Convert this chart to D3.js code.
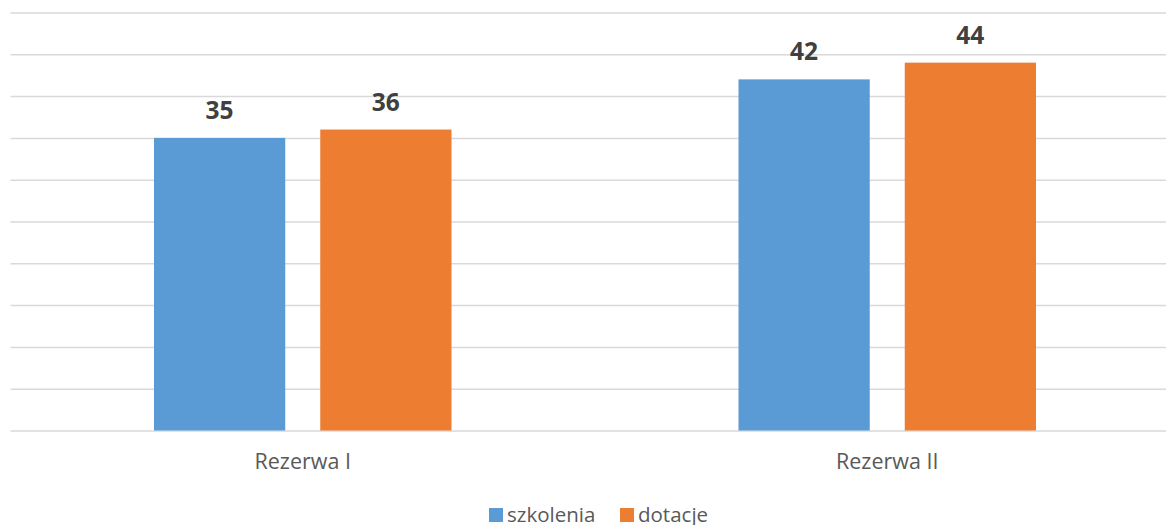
<!DOCTYPE html>
<html><head><meta charset="utf-8">
<script src="https://cdn.jsdelivr.net/npm/d3@7"></script>
<style>html,body{margin:0;padding:0;background:#fff;}svg{display:block;}</style>
</head><body>
<svg id="chart" width="1166" height="525"></svg>
<script>
const categories = ["Rezerwa I", "Rezerwa II"];
const seriesNames = ["szkolenia", "dotacje"];
const szkolenia = [35, 42];
const dotacje = [36, 44];
const yTicks = [0, 5, 10, 15, 20, 25, 30, 35, 40, 45, 50];
const colors = ["#5b9bd5", "#ed7d31"];

(function () {
const svg = d3.select("#chart");
const pLeft = 10.5, pRight = 1179.5, pTop = 12.5, pBottom = 430.5;

const x0 = d3.scaleBand().domain(categories).range([pLeft, pRight]).paddingInner(0.491).paddingOuter(0.2455);
const x1 = d3.scaleBand().domain(seriesNames).range([0, x0.bandwidth()]).paddingInner(0.2106);
const y = d3.scaleLinear().domain([0, 50]).range([pBottom, pTop]);

const font = "'Open Sans', sans-serif";

// gridlines
const yAxis = d3.axisLeft(y).tickValues(yTicks).tickSize(-(pRight - pLeft)).tickFormat("");
const g = svg.append("g").attr("transform", `translate(${pLeft},0)`).call(yAxis);
g.select(".domain").remove();
g.selectAll(".tick line").attr("stroke", "#d9d9d9").attr("stroke-width", 1.5);

const data = categories.map((c, i) => ({cat: c, vals: [szkolenia[i], dotacje[i]]}));

const groups = svg.selectAll(".grp").data(data).enter().append("g")
  .attr("transform", d => `translate(${x0(d.cat)},0)`);

groups.selectAll("rect").data(d => d.vals.map((v, j) => ({s: seriesNames[j], v, j})))
  .enter().append("rect")
  .attr("x", d => x1(d.s)).attr("width", x1.bandwidth())
  .attr("y", d => y(d.v)).attr("height", d => y(0) - y(d.v))
  .attr("fill", d => colors[d.j]);

groups.selectAll("text.lbl").data(d => d.vals.map((v, j) => ({s: seriesNames[j], v, j})))
  .enter().append("text").attr("class", "lbl")
  .attr("x", d => x1(d.s) + x1.bandwidth() / 2)
  .attr("y", d => y(d.v) - 19)
  .attr("text-anchor", "middle")
  .attr("font-family", font).attr("font-weight", "bold").attr("font-size", 24.5)
  .attr("fill", "#404040").text(d => d.v);

// x axis labels
const xAxis = d3.axisBottom(x0).tickSize(0).tickPadding(0);
const xg = svg.append("g").attr("transform", `translate(0,${pBottom})`).call(xAxis);
xg.select(".domain").remove();
xg.selectAll(".tick text").attr("font-family", font).attr("font-size", 21.5).attr("fill", "#595959")
  .attr("dy", null).attr("y", 38.5);

// legend
const legend = svg.append("g");
const legX = [489, 620];
seriesNames.forEach((n, i) => {
  const lx = legX[i];
  legend.append("rect").attr("x", lx).attr("y", 508).attr("width", 14).attr("height", 14).attr("fill", colors[i]);
  legend.append("text").attr("x", lx + 18).attr("y", 522).attr("font-family", font).attr("font-size", 20.5)
    .attr("fill", "#595959").text(n);
});
})();
</script>
</body></html>
